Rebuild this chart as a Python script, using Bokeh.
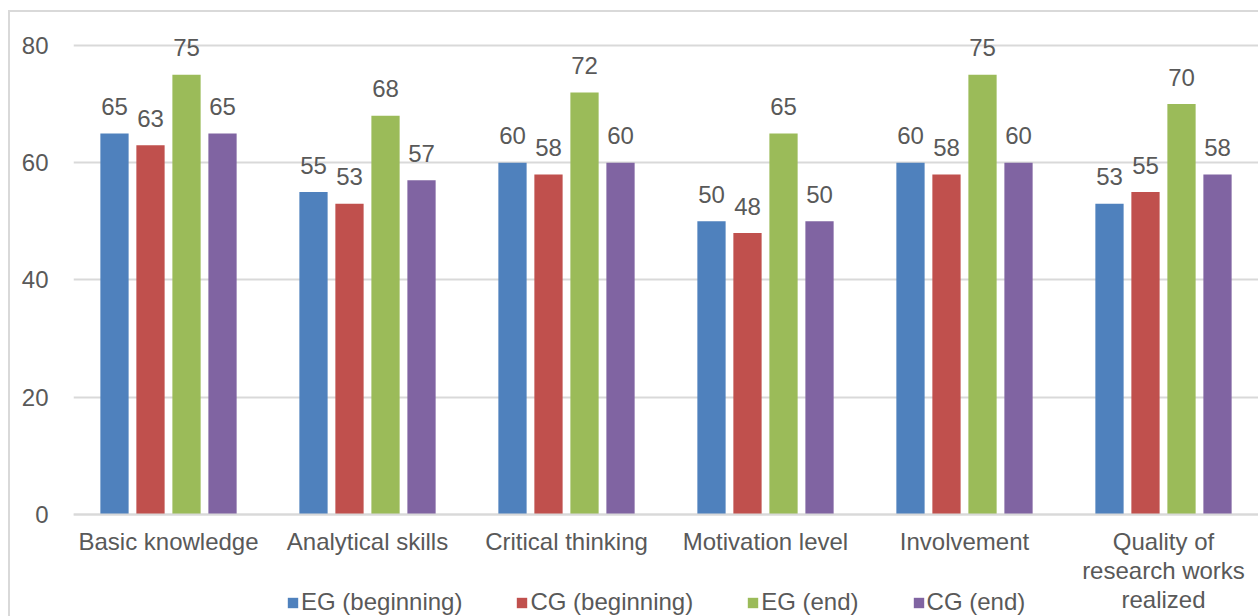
from bokeh.plotting import figure
from bokeh.models import (ColumnDataSource, FactorRange, Range1d, Legend, LegendItem,
                          FixedTicker)
from bokeh.transform import dodge
from bokeh.core.properties import value
from bokeh.embed import file_html
from bokeh.resources import INLINE

categories = ["Basic knowledge", "Analytical skills", "Critical thinking",
              "Motivation level", "Involvement", "Quality of\nresearch works\nrealized"]
series_names = ["EG (beginning)", "CG (beginning)", "EG (end)", "CG (end)"]
eg_begin = [65, 55, 60, 50, 60, 53]
cg_begin = [63, 53, 58, 48, 58, 55]
eg_end = [75, 68, 72, 65, 75, 70]
cg_end = [65, 57, 60, 50, 60, 58]
y_ticks = [0, 20, 40, 60, 80]
colors = ["#4F81BD", "#C0504D", "#9BBB59", "#8064A2"]

FONT = "Liberation Sans"
TXT = "#595959"
GRID = "#d9d9d9"

src = ColumnDataSource(dict(cat=categories, s0=eg_begin, s1=cg_begin, s2=eg_end, s3=cg_end,
                            l0=[str(v) for v in eg_begin], l1=[str(v) for v in cg_begin],
                            l2=[str(v) for v in eg_end], l3=[str(v) for v in cg_end]))

p = figure(width=1258, height=616, output_backend="svg", toolbar_location=None,
           x_range=FactorRange(factors=categories, range_padding=-0.0226,
                               range_padding_units="absolute"),
           y_range=Range1d(-17.4, 83.92),
           min_border_left=73, min_border_right=0, min_border_top=22, min_border_bottom=0)
p.border_fill_color = None
p.background_fill_color = None
p.outline_line_color = None
p.styles = {"box-shadow": "inset 8px 0 0 #ffffff, inset 0 10px 0 #ffffff, "
                          "inset 10px 0 0 #d9d9d9, inset 0 12px 0 #d9d9d9"}

offsets = [-0.2714, -0.0905, 0.0905, 0.2714]
renderers = []
for i in range(4):
    r = p.vbar(x=dodge("cat", offsets[i], range=p.x_range), top="s%d" % i, width=0.142,
               source=src, fill_color=colors[i], line_color=None)
    renderers.append(r)
    p.text(x=dodge("cat", offsets[i], range=p.x_range), y="s%d" % i, text="l%d" % i,
           source=src, text_align="center", text_baseline="alphabetic", y_offset=-27,
           text_font=value(FONT), text_font_size="24px", text_color=TXT)

p.xgrid.grid_line_color = None
p.ygrid.grid_line_color = GRID
p.ygrid.grid_line_width = 2

p.yaxis.ticker = FixedTicker(ticks=y_ticks)
p.yaxis.axis_line_color = None
p.yaxis.major_tick_line_color = None
p.yaxis.minor_tick_line_color = None
p.yaxis.major_label_standoff = 19
p.yaxis.major_label_text_font = FONT
p.yaxis.major_label_text_font_size = "24px"
p.yaxis.major_label_text_color = TXT

p.xaxis.fixed_location = 0
p.xaxis.axis_line_color = GRID
p.xaxis.axis_line_width = 2
p.xaxis.major_tick_line_color = None
p.xaxis.minor_tick_line_color = None
p.xaxis.major_label_standoff = 8
p.xaxis.major_label_text_font = FONT
p.xaxis.major_label_text_font_size = "24px"
p.xaxis.major_label_text_color = TXT
p.xaxis.major_label_text_line_height = 1.07

legend = Legend(items=[LegendItem(label=series_names[i], renderers=[renderers[i]]) for i in range(4)],
                orientation="horizontal", location=(213, 0), padding=0, margin=0,
                spacing=53, label_standoff=2, glyph_width=13, glyph_height=13,
                label_text_font=FONT, label_text_font_size="24px", label_text_color=TXT,
                border_line_color=None, background_fill_color=None)
p.add_layout(legend, "center")

open("out.html", "w").write(file_html(p, INLINE))
